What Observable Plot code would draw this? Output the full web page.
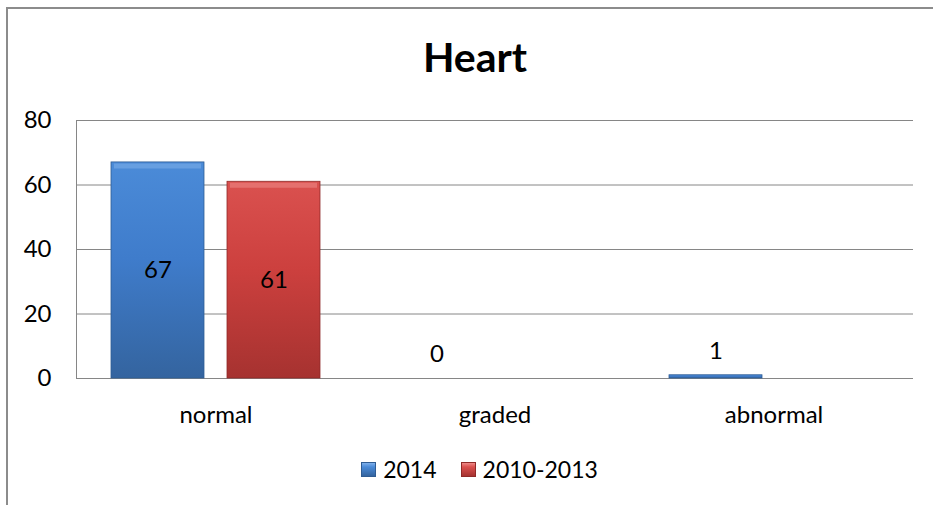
<!DOCTYPE html>
<html>
<head>
<meta charset="utf-8">
<script src="https://cdn.jsdelivr.net/npm/d3@7"></script>
<script src="https://cdn.jsdelivr.net/npm/@observablehq/plot@0.6"></script>
<style>
  html, body { margin: 0; padding: 0; background: #fff; overflow: hidden; }
  #wrap { position: relative; width: 933px; height: 505px; overflow: hidden; font-family: Lato, "Open Sans", sans-serif; }
  #border { position: absolute; left: 6px; top: 7px; width: 960px; height: 520px; border-top: 2px solid #8c8c8c; border-left: 2px solid #8c8c8c; box-sizing: border-box; }
  #title { position: absolute; left: 0; width: 950px; top: 36px; text-align: center; font-size: 41px; line-height: 41px; font-weight: bold; color: #000; }
  #chart { position: absolute; left: 0; top: 0; }
  #legend { position: absolute; left: 0; width: 959px; top: 455px; display: flex; justify-content: center; align-items: center; font-size: 23px; line-height: 28px; color: #000; }
  .sw { width: 15px; height: 15px; display: inline-block; margin-right: 7px; box-sizing: border-box; }
  .item { display: flex; align-items: center; margin: 0 12px; }
</style>
</head>
<body>
<div id="wrap">
  <div id="border"></div>
  <div id="title">Heart</div>
  <div id="chart"></div>
  <div id="legend"></div>
</div>
<script>
const categories = ["normal", "graded", "abnormal"];
const seriesNames = ["2014", "2010-2013"];
const values2014 = [67, 0, 1];
const values20102013 = [61, null, null];
const yTicks = [0, 20, 40, 60, 80];
const seriesColors = {
  "2014": {top: "#4B8BD8", mid: "#3F7CCB", bottom: "#34649F", edge: "#2F5C93", light: "#7FB0EA"},
  "2010-2013": {top: "#DA514F", mid: "#CC403E", bottom: "#A63230", edge: "#8F2A28", light: "#EE8A88"}
};

const data = [];
categories.forEach((c, i) => {
  data.push({category: c, series: "2014", value: values2014[i]});
  data.push({category: c, series: "2010-2013", value: values20102013[i]});
});
const present = data.filter(d => d.value != null);

const plot = Plot.plot({
  width: 933,
  height: 440,
  marginTop: 120,
  marginBottom: 62,
  marginLeft: 76,
  marginRight: 20,
  style: {fontFamily: "Lato, 'Open Sans', sans-serif", fontSize: "24px", color: "#000", background: "transparent", overflow: "visible"},
  fx: {domain: categories, padding: 0, label: null, axis: "bottom", tickSize: 0, tickPadding: 27},
  x: {domain: seriesNames, paddingInner: 0.197, paddingOuter: 0.295, axis: null},
  y: {domain: [0, 80], ticks: yTicks, label: null, tickSize: 0, tickPadding: 25},
  color: {domain: seriesNames, range: ["url(#gBlue)", "url(#gRed)"]},
  marks: [
    Plot.gridY(yTicks, {stroke: "#868686", strokeOpacity: 1, strokeWidth: 1}),
    Plot.frame({anchor: "left", facetAnchor: "left", stroke: "#868686", strokeOpacity: 1}),
    Plot.barY(present, {fx: "category", x: "series", y: "value", fill: "series",
      stroke: d => seriesColors[d.series].edge, strokeWidth: 0.8}),
    Plot.tickY(present.filter(d => d.value >= 10), {fx: "category", x: "series", y: "value",
      stroke: d => seriesColors[d.series].light, strokeWidth: 5, strokeOpacity: 0.55, dy: 3.5, insetLeft: 3, insetRight: 3}),
    Plot.text(present.filter(d => d.value >= 10), {fx: "category", x: "series", y: d => d.value / 2,
      text: d => String(d.value), fill: "#000", fontSize: 24}),
    Plot.text(present.filter(d => d.value < 10 && d.series === "2014"), {fx: "category", x: "series", y: "value",
      text: d => String(d.value), fill: "#000", fontSize: 24, dy: -24})
  ]
});

// gradient defs
const svg = d3.select(plot);
const defs = svg.insert("defs", ":first-child");
function grad(id, c) {
  const g = defs.append("linearGradient").attr("id", id).attr("x1", 0).attr("y1", 0).attr("x2", 0).attr("y2", 1);
  g.append("stop").attr("offset", "0%").attr("stop-color", c.top);
  g.append("stop").attr("offset", "45%").attr("stop-color", c.mid);
  g.append("stop").attr("offset", "100%").attr("stop-color", c.bottom);
}
grad("gBlue", seriesColors["2014"]);
grad("gRed", seriesColors["2010-2013"]);

document.getElementById("chart").appendChild(plot);

// legend
const legend = d3.select("#legend");
seriesNames.forEach(s => {
  const c = seriesColors[s];
  const item = legend.append("div").attr("class", "item");
  item.append("span").attr("class", "sw")
    .style("background", `linear-gradient(to bottom, ${c.light} 0%, ${c.top} 30%, ${c.bottom} 100%)`)
    .style("border", `1px solid ${c.edge}`);
  item.append("span").text(s);
});
</script>
</body>
</html>
